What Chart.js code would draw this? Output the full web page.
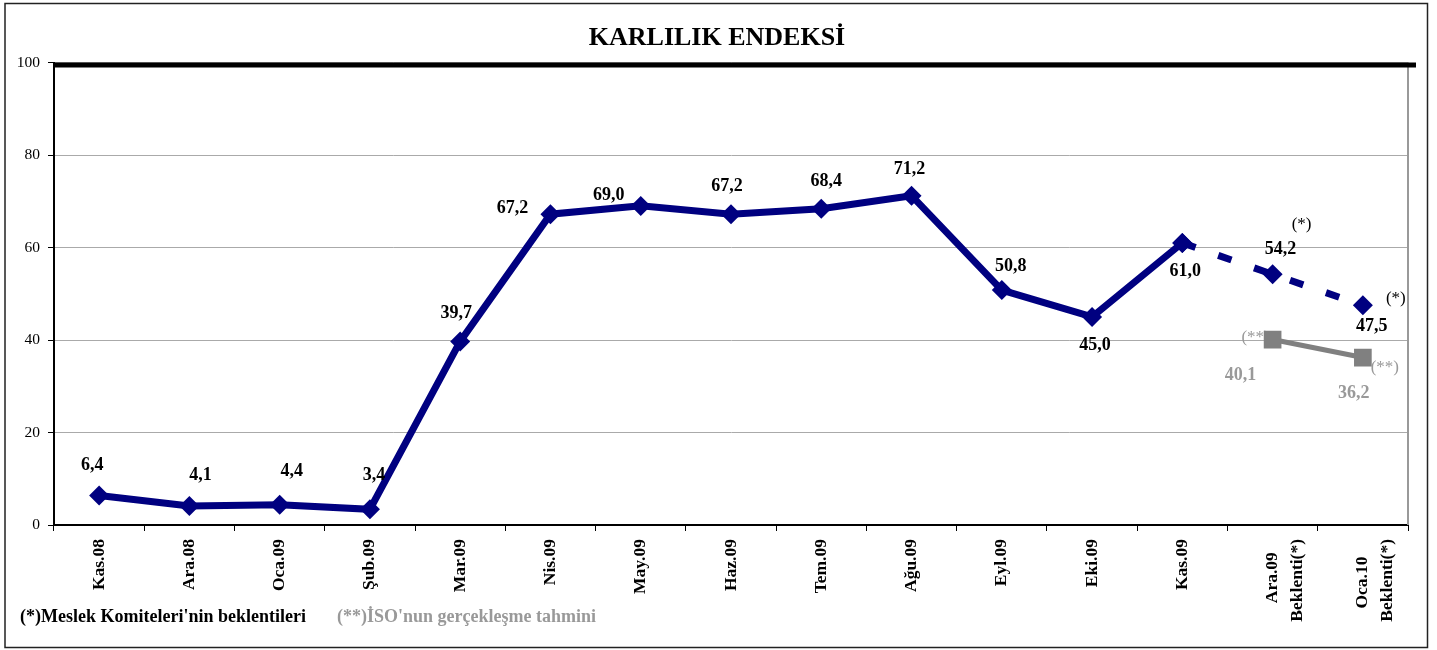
<!DOCTYPE html>
<html>
<head>
<meta charset="utf-8">
<script src="https://cdn.jsdelivr.net/npm/chart.js@4/dist/chart.umd.min.js"></script>
<style>
  html, body { margin: 0; padding: 0; background: #fff; }
  #wrap { width: 1437px; height: 650px; }
</style>
</head>
<body>
<div id="wrap"><canvas id="karChart"></canvas></div>
<script>
// data
const months = [
    'Kas.08', 'Ara.08', 'Oca.09', 'Şub.09', 'Mar.09', 'Nis.09', 'May.09', 'Haz.09',
    'Tem.09', 'Ağu.09', 'Eyl.09', 'Eki.09', 'Kas.09',
    ['Ara.09   ', 'Beklenti(*)'], ['Oca.10    ', 'Beklenti(*)'],
];
const actualIndex = [6.4, 4.1, 4.4, 3.4, 39.7, 67.2, 69.0, 67.2, 68.4, 71.2, 50.8, 45.0, 61.0, null, null];
const expectedIndex = [null, null, null, null, null, null, null, null, null, null, null, null, 61.0, 54.2, 47.5];
const isoEstimate = [null, null, null, null, null, null, null, null, null, null, null, null, null, 40.1, 36.2];
const expectedNotes = [null, null, null, null, null, null, null, null, null, null, null, null, null, '(*)', '(*)'];
const isoNotes = [null, null, null, null, null, null, null, null, null, null, null, null, null, '(**)', '(**)'];
const yTicks = [0, 20, 40, 60, 80, 100];

// label placement (pixel offsets from the point)
const actualLabelPos = [[-7, -30], [11, -31], [12, -33], [4, -34], [-4, -28], [-38, -6], [-32, -11],
    [-4, -28], [5, -27], [-2, -26], [9, -24], [3, 28], [3, 28]];
const expectedLabelPos = { 13: [8, -25], 14: [9, 21] };
const expectedNotePos = { 13: [29, -50], 14: [33, -7] };
const isoLabelPos = { 13: [-32, 36], 14: [-9, 36] };
const isoNotePos = { 13: [-17, -2], 14: [22, 10] };

const NAVY = '#000080';
const GREY = '#808080';
const SERIF = '"Liberation Serif", "Times New Roman", serif';

const fmt = v => v.toFixed(1).replace('.', ',');

const decorations = {
    id: 'decorations',
    beforeDraw(chart) {
        const { ctx } = chart;
        ctx.save();
        ctx.fillStyle = '#fff';
        ctx.fillRect(0, 0, chart.width, chart.height);
        ctx.strokeStyle = '#222';
        ctx.lineWidth = 1.5;
        ctx.strokeRect(5, 3.5, 1422.5, 644);
        ctx.fillStyle = '#000';
        ctx.font = `bold 26px ${SERIF}`;
        ctx.textAlign = 'center';
        ctx.textBaseline = 'middle';
        ctx.fillText('KARLILIK ENDEKSİ', 717, 38);
        ctx.font = `bold 18px ${SERIF}`;
        ctx.textAlign = 'left';
        ctx.fillText("(*)Meslek Komiteleri'nin beklentileri", 20, 617);
        ctx.fillStyle = '#999';
        ctx.fillText("(**)İSO'nun gerçekleşme tahmini", 337, 617);
        ctx.restore();
    },
    beforeDatasetsDraw(chart) {
        const { ctx, chartArea: a } = chart;
        ctx.save();
        // right border of plot area and heavy top line
        ctx.strokeStyle = '#999';
        ctx.lineWidth = 2;
        ctx.beginPath();
        ctx.moveTo(a.right, a.top);
        ctx.lineTo(a.right, a.bottom);
        ctx.stroke();
        ctx.strokeStyle = '#000';
        ctx.lineWidth = 5;
        ctx.beginPath();
        ctx.moveTo(a.left, a.top + 2.5);
        ctx.lineTo(a.right + 8, a.top + 2.5);
        ctx.stroke();
        // notes behind markers
        ctx.font = `17px ${SERIF}`;
        ctx.textAlign = 'center';
        ctx.textBaseline = 'middle';
        const drawNotes = (dsIndex, notes, pos, color) => {
            const meta = chart.getDatasetMeta(dsIndex);
            ctx.fillStyle = color;
            notes.forEach((n, i) => {
                if (!n) return;
                const p = meta.data[i];
                ctx.fillText(n, p.x + pos[i][0], p.y + pos[i][1]);
            });
        };
        drawNotes(1, expectedNotes, expectedNotePos, '#000');
        drawNotes(2, isoNotes, isoNotePos, '#999');
        ctx.restore();
    },
    afterDatasetsDraw(chart) {
        const { ctx } = chart;
        ctx.save();
        ctx.font = `bold 18px ${SERIF}`;
        ctx.textAlign = 'center';
        ctx.textBaseline = 'middle';
        const drawLabels = (dsIndex, values, pos, color) => {
            const meta = chart.getDatasetMeta(dsIndex);
            ctx.fillStyle = color;
            values.forEach((v, i) => {
                if (v === null || !pos[i]) return;
                const p = meta.data[i];
                ctx.fillText(fmt(v), p.x + pos[i][0], p.y + pos[i][1]);
            });
        };
        drawLabels(0, actualIndex, actualLabelPos, '#000');
        drawLabels(1, expectedIndex, expectedLabelPos, '#000');
        drawLabels(2, isoEstimate, isoLabelPos, '#999');
        ctx.restore();
    },
};

new Chart(document.getElementById('karChart'), {
    type: 'line',
    data: {
        labels: months,
        datasets: [
            {
                label: 'Karlılık endeksi',
                data: actualIndex,
                borderColor: NAVY,
                backgroundColor: NAVY,
                borderWidth: 7,
                pointStyle: 'rectRot',
                pointRadius: 10,
                pointBorderWidth: 0,
                pointBackgroundColor: NAVY,
                tension: 0,
            },
            {
                label: 'Beklenti',
                data: expectedIndex,
                borderColor: NAVY,
                backgroundColor: NAVY,
                borderWidth: 7,
                borderDash: [14, 24],
                pointStyle: 'rectRot',
                pointRadius: 10,
                pointBorderWidth: 0,
                pointBackgroundColor: NAVY,
                tension: 0,
            },
            {
                label: 'İSO tahmini',
                data: isoEstimate,
                borderColor: GREY,
                backgroundColor: GREY,
                borderWidth: 5,
                pointStyle: 'rect',
                pointRadius: 12.5,
                pointBorderWidth: 0,
                pointBackgroundColor: GREY,
                tension: 0,
            },
        ],
    },
    options: {
        responsive: true,
        maintainAspectRatio: false,
        animation: false,
        layout: {
            padding: { top: 62.5, right: 29, left: 0, bottom: 0 },
        },
        plugins: {
            legend: { display: false },
            tooltip: { enabled: false },
            title: { display: false },
        },
        scales: {
            x: {
                offset: true,
                afterFit: scale => { scale.height = 125; },
                grid: {
                    offset: true,
                    drawOnChartArea: false,
                    drawTicks: true,
                    tickLength: 6,
                    tickColor: '#000',
                },
                border: { color: '#000', width: 2 },
                ticks: {
                    color: '#000',
                    minRotation: 90,
                    maxRotation: 90,
                    autoSkip: false,
                    padding: 8,
                    font: { family: SERIF, size: 17.5, weight: 'bold', lineHeight: 1.4 },
                },
            },
            y: {
                min: 0,
                max: 100,
                afterFit: scale => { scale.width = 54; },
                afterBuildTicks: scale => { scale.ticks = yTicks.map(v => ({ value: v })); },
                grid: {
                    color: '#aaa',
                    lineWidth: 1,
                    drawTicks: true,
                    tickLength: 6,
                    tickColor: '#000',
                },
                border: { color: '#000', width: 2 },
                ticks: {
                    color: '#000',
                    padding: 8,
                    font: { family: SERIF, size: 15.5 },
                },
            },
        },
    },
    plugins: [decorations],
});
</script>
</body>
</html>
